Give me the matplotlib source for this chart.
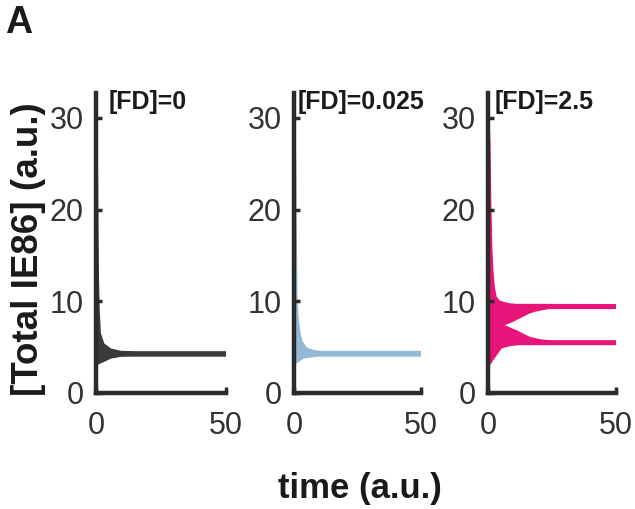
import matplotlib
matplotlib.use("Agg")
import matplotlib.pyplot as plt
import numpy as np

# ── data (envelopes) ─────────────────────────────────────────────────────────
panel_titles = ["[FD]=0", "[FD]=0.025", "[FD]=2.5"]
panel_colors = ["#3a3a3a", "#94b9d6", "#e8147a"]

# FD = 0
fd0_t_hi = [0, 0.4, 0.8, 1.0, 1.2, 1.45, 1.9, 3.2, 5.8, 9.6, 15, 50]
fd0_hi = [32.7, 30, 24, 17, 12, 9, 6.5, 5.4, 4.85, 4.6, 4.56, 4.56]
fd0_t_lo = [0, 3.2, 5.8, 9.6, 15, 50]
fd0_lo = [3.0, 3.4, 3.75, 3.94, 3.96, 3.96]

# FD = 0.025
fd1_t_hi = [0, 0.5, 0.9, 1.05, 1.25, 1.45, 1.9, 2.6, 3.5, 5, 7, 10, 50]
fd1_hi = [32.7, 30, 25, 20, 14, 10, 8, 6.5, 5.6, 5.0, 4.75, 4.6, 4.6]
fd1_t_lo = [0, 3.7, 9, 15, 50]
fd1_lo = [3.0, 3.75, 3.96, 3.96, 3.96]

# FD = 2.5 (outer envelope + gap between the two branches)
fd2_t_hi = [0, 0.6, 1.0, 1.3, 1.7, 2.1, 2.7, 3.4, 4.5, 6, 8, 11, 50]
fd2_hi = [32.7, 30, 27, 21, 16, 13.4, 11.5, 10.5, 10.1, 9.95, 9.8, 9.72, 9.7]
fd2_t_lo = [0, 1.0, 2.1, 5.3, 8.7, 12, 50]
fd2_lo = [2.7, 3.1, 3.57, 4.85, 5.1, 5.21, 5.21]
fd2_t_gap_hi = [6.6, 9, 11.2, 14, 16.4, 19, 21.6, 24, 50]
fd2_gap_hi = [7.4, 7.65, 7.95, 8.35, 8.68, 8.9, 9.04, 9.15, 9.15]
fd2_t_gap_lo = [6.6, 9, 11.2, 14, 16.4, 20.3, 24, 50]
fd2_gap_lo = [7.4, 7.1, 6.85, 6.45, 6.12, 5.87, 5.76, 5.76]

xticks = [0, 50]
yticks = [0, 10, 20, 30]
xlim = (0, 50)
ylim = (0, 32.7)

# ── styling ──────────────────────────────────────────────────────────────────
plt.rcParams.update({
    "font.family": ["Liberation Sans", "DejaVu Sans"],
})
AXC = "#2b2b2b"
TXT = "#1a1a1a"


def envelope(ax, t_hi, hi, t_lo, lo, color):
    xs = list(t_hi) + list(t_lo)[::-1]
    ys = list(hi) + list(lo)[::-1]
    ax.fill(xs, ys, color=color, lw=0)


fig = plt.figure(figsize=(6.35, 5.09), dpi=100)
rects = [[96 / 635, 116 / 509, 130 / 635, 300 / 509],
         [294 / 635, 116 / 509, 127 / 635, 300 / 509],
         [488 / 635, 116 / 509, 128 / 635, 300 / 509]]
title_dx = [0.10, 0.03, 0.055]
axes = [fig.add_axes(r) for r in rects]

envelope(axes[0], fd0_t_hi, fd0_hi, fd0_t_lo, fd0_lo, panel_colors[0])
envelope(axes[1], fd1_t_hi, fd1_hi, fd1_t_lo, fd1_lo, panel_colors[1])
envelope(axes[2], fd2_t_hi, fd2_hi, fd2_t_lo, fd2_lo, panel_colors[2])
envelope(axes[2], fd2_t_gap_hi, fd2_gap_hi, fd2_t_gap_lo, fd2_gap_lo, "white")

for ax, title, dx in zip(axes, panel_titles, title_dx):
    ax.set_xlim(*xlim)
    ax.set_ylim(*ylim)
    ax.set_xticks(xticks)
    ax.set_yticks(yticks)
    for side in ("top", "right"):
        ax.spines[side].set_visible(False)
    for side in ("left", "bottom"):
        ax.spines[side].set_linewidth(3.2)
        ax.spines[side].set_color(AXC)
        ax.spines[side].set_capstyle("projecting")
        ax.spines[side].set_zorder(5)
    ax.tick_params(direction="in", length=4.5, width=2.5, color=AXC,
                   labelsize=22, labelcolor="#333333")
    ax.tick_params(axis="y", pad=9)
    ax.tick_params(axis="x", pad=13)
    ax.patch.set_visible(False)
    ax.text(dx, 1.01, title, transform=ax.transAxes, ha="left", va="top",
            fontsize=18, fontweight="bold", color=TXT)

fig.text(0.045, 0.51, "[Total IE86] (a.u.)", rotation=90, ha="center",
         va="center", fontsize=26.5, fontweight="bold", color=TXT)
fig.text(0.567, 0.04, "time (a.u.)", ha="center", va="center",
         fontsize=25, fontweight="bold", color=TXT)
fig.text(0.008, 0.99, "A", ha="left", va="top", fontsize=27,
         fontweight="bold", color=TXT)

fig.savefig("out.png", dpi=100)
